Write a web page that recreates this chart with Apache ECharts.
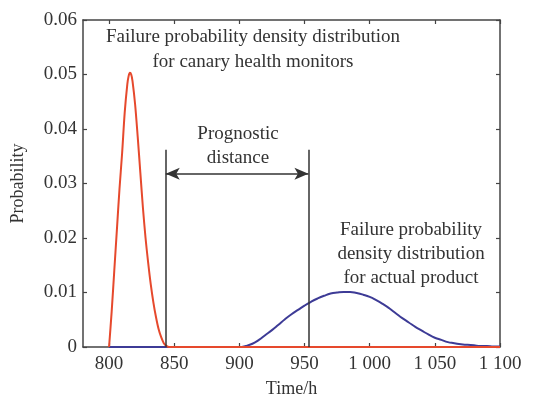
<!DOCTYPE html>
<html>
<head>
<meta charset="utf-8">
<script src="https://cdn.jsdelivr.net/npm/echarts@6/dist/echarts.min.js"></script>
<style>
  html, body { margin: 0; padding: 0; background: #fff; }
  #main { width: 535px; height: 400px; }
</style>
</head>
<body>
<div id="main"></div>
<script>
// canary (red) curve
var canaryTime = [800, 802, 804, 806, 808, 810, 812, 814, 815, 816, 817, 818, 820, 822, 824, 826, 828, 830, 832, 834, 836, 838, 840, 842, 844, 846, 850, 900, 950, 1000, 1050, 1100];
var canaryProb = [0, 0.0065, 0.0140, 0.0215, 0.0290, 0.0355, 0.0430, 0.0482, 0.0497, 0.0503, 0.0500, 0.0488, 0.0445, 0.0385, 0.0320, 0.0255, 0.0200, 0.0155, 0.0115, 0.0082, 0.0055, 0.0033, 0.0018, 0.0007, 0.0002, 0, 0, 0, 0, 0, 0, 0];

// actual product (blue) curve
var productTime = [800, 850, 900, 905, 910, 915, 920, 925, 930, 935, 940, 945, 950, 955, 960, 965, 970, 975, 980, 985, 990, 995, 1000, 1005, 1010, 1015, 1020, 1025, 1030, 1035, 1040, 1045, 1050, 1055, 1060, 1065, 1070, 1075, 1080, 1085, 1090, 1095, 1100];
var productProb = [0, 0, 0, 0.0002, 0.0006, 0.0013, 0.0022, 0.0031, 0.0041, 0.0051, 0.0060, 0.0068, 0.0076, 0.0083, 0.0089, 0.0094, 0.0098, 0.0100, 0.0101, 0.0101, 0.0099, 0.0096, 0.0092, 0.0086, 0.0079, 0.0071, 0.0062, 0.0053, 0.0045, 0.0037, 0.0030, 0.0023, 0.0017, 0.0013, 0.0009, 0.0007, 0.0005, 0.0004, 0.0003, 0.0002, 0.0002, 0.0001, 0.0001];

// prognostic distance markers
var markerTimes = [843.5, 953];
var markerTop = 0.0362;
var arrowLevel = 0.0318;

var xTicks = [800, 850, 900, 950, 1000, 1050, 1100];
var yTicks = [0, 0.01, 0.02, 0.03, 0.04, 0.05, 0.06];

function pairs(xs, ys) {
    return xs.map(function (x, i) { return [x, ys[i]]; });
}

var font = '"Liberation Serif", "DejaVu Serif", serif';
var textColor = '#333';
var axisColor = '#444';

var chart = echarts.init(document.getElementById('main'), null, { renderer: 'canvas' });

var xBase = {
    type: 'value',
    min: 780,
    max: 1100,
    axisLine: { show: true, onZero: false, lineStyle: { color: axisColor, width: 1.5 } },
    axisTick: { inside: true, length: 4, customValues: xTicks, lineStyle: { color: axisColor, width: 1.2 } },
    splitLine: { show: false }
};
var yBase = {
    type: 'value',
    min: 0,
    max: 0.06,
    interval: 0.01,
    axisLine: { show: true, onZero: false, lineStyle: { color: axisColor, width: 1.5 } },
    axisTick: { inside: true, length: 4, lineStyle: { color: axisColor, width: 1.2 } },
    splitLine: { show: false }
};

var option = {
    animation: false,
    grid: { left: 83, right: 35, top: 20, bottom: 53, containLabel: false, outerBoundsMode: 'none' },
    xAxis: [
        Object.assign({}, xBase, {
            position: 'bottom',
            name: 'Time/h',
            nameLocation: 'middle',
            nameGap: 33,
            nameTextStyle: { fontFamily: font, fontSize: 18, color: textColor },
            axisLabel: {
                customValues: xTicks,
                margin: 8,
                fontFamily: font,
                fontSize: 19,
                color: textColor,
                formatter: function (v) {
                    return v >= 1000 ? Math.floor(v / 1000) + ' ' + String(v % 1000).padStart(3, '0') : String(v);
                }
            }
        }),
        Object.assign({}, xBase, { position: 'top', axisLabel: { show: false } })
    ],
    yAxis: [
        Object.assign({}, yBase, {
            position: 'left',
            name: 'Probability',
            nameLocation: 'middle',
            nameGap: 56,
            nameTextStyle: { fontFamily: font, fontSize: 18, color: textColor },
            axisLabel: {
                customValues: yTicks,
                margin: 6,
                fontFamily: font,
                fontSize: 19,
                color: textColor,
                formatter: function (v) { return v === 0 ? '0' : v.toFixed(2); }
            }
        }),
        Object.assign({}, yBase, { position: 'right', axisLabel: { show: false } })
    ],
    series: [
        {
            type: 'line',
            data: pairs(productTime, productProb),
            smooth: 0.5,
            showSymbol: false,
            lineStyle: { color: '#3d3b96', width: 2 },
            itemStyle: { color: '#3d3b96' }
        },
        {
            type: 'line',
            data: pairs(canaryTime, canaryProb),
            smooth: 0.3,
            showSymbol: false,
            lineStyle: { color: '#e6492d', width: 2 },
            itemStyle: { color: '#e6492d' },
            markLine: {
                silent: true,
                label: { show: false },
                lineStyle: { color: '#333', width: 1.5, type: 'solid' },
                data: [
                    [{ coord: [markerTimes[0], 0], symbol: 'none' }, { coord: [markerTimes[0], markerTop], symbol: 'none' }],
                    [{ coord: [markerTimes[1], 0], symbol: 'none' }, { coord: [markerTimes[1], markerTop], symbol: 'none' }],
                    [{ coord: [markerTimes[0], arrowLevel], symbol: 'arrow', symbolSize: [9, 14] }, { coord: [markerTimes[1], arrowLevel], symbol: 'arrow', symbolSize: [9, 14] }]
                ]
            }
        }
    ],
    graphic: [
        {
            type: 'text',
            style: {
                text: 'Failure probability density distribution\nfor canary health monitors',
                x: 253, y: 25, align: 'center',
                font: '19px ' + font, fill: textColor, lineHeight: 25
            }
        },
        {
            type: 'text',
            style: {
                text: 'Prognostic\ndistance',
                x: 238, y: 122, align: 'center',
                font: '19px ' + font, fill: textColor, lineHeight: 24
            }
        },
        {
            type: 'text',
            style: {
                text: 'Failure probability\ndensity distribution\nfor actual product',
                x: 411, y: 218, align: 'center',
                font: '19px ' + font, fill: textColor, lineHeight: 24
            }
        }
    ]
};

chart.setOption(option);
</script>
</body>
</html>
